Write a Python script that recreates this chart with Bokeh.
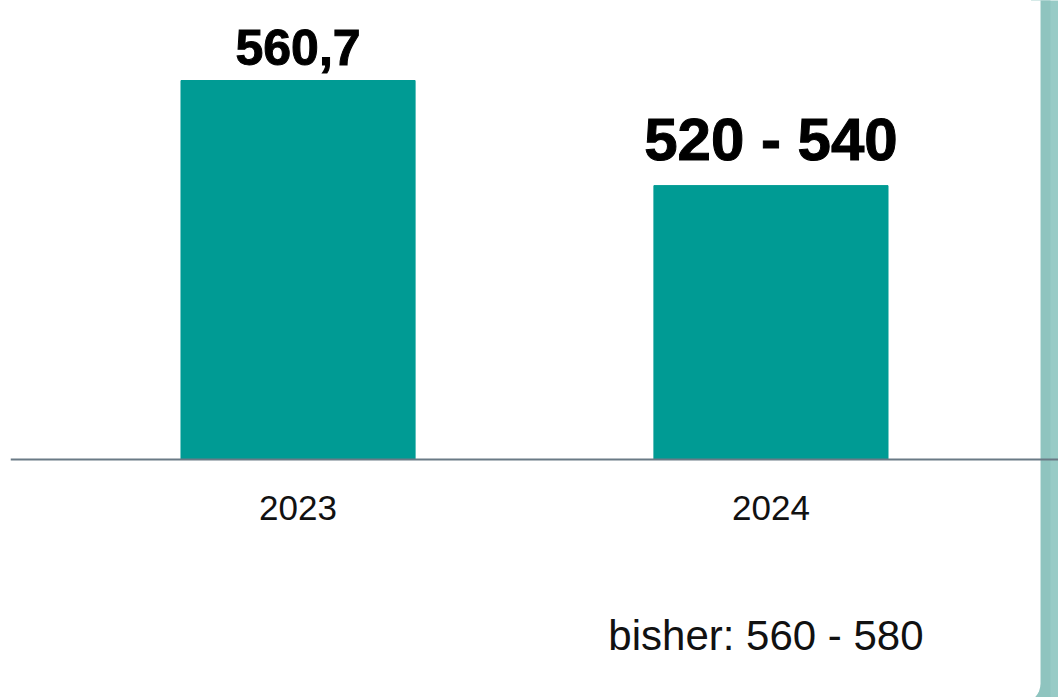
from bokeh.plotting import figure
from bokeh.models import Range1d, FactorRange, Span, BoxAnnotation, ColumnDataSource, GlobalInlineStyleSheet
from bokeh.core.properties import value
from bokeh.embed import file_html
from bokeh.resources import INLINE

# ---- data ----
years = ["2023", "2024"]
values = [560.7, 530.0]          # 2024: midpoint of the forecast range 520 - 540
value_labels = ["560,7", "520 - 540"]
note = "bisher: 560 - 580"

# ---- styles ----
label_sizes = ["50px", "60px"]
label_offsets = [-33, -46]
BAR = "#009B94"
BAND = "#8fc4bf"
BAND2 = "#98cbc6"

src = ColumnDataSource(dict(x=years, top=values, lab=value_labels,
                            size=label_sizes, off=label_offsets))

p = figure(width=1058, height=697, output_backend="svg", toolbar_location=None,
           x_range=FactorRange(factors=years, range_padding=0.108, range_padding_units="absolute"),
           y_range=Range1d(380.48, 584.07),
           min_border_left=10, min_border_right=0, min_border_top=0, min_border_bottom=0,
           background_fill_color="white", border_fill_color="white", outline_line_color=None)
p.stylesheets = [GlobalInlineStyleSheet(
    css="html, body { margin: 0 !important; padding: 0 !important; overflow: hidden !important; }")]
p.axis.visible = False
p.grid.visible = False

# teal band behind the white panel (right edge)
p.add_layout(BoxAnnotation(left=2.050, right=2.200, top=700, bottom=300, fill_color=BAND2,
                           fill_alpha=1, line_alpha=0, level="underlay"))
p.add_layout(BoxAnnotation(left=2.050, right=2.091, top=700, bottom=300, fill_color=BAND,
                           fill_alpha=1, line_alpha=0, level="underlay"))
# white panel with rounded bottom-right corner
p.add_layout(BoxAnnotation(left=-1.0, right=2.070, top=700, bottom=378.73, fill_color="white",
                           fill_alpha=1, line_alpha=0, level="underlay", border_radius=(0, 0, 20, 0)))

p.vbar(x="x", top="top", bottom=450, width=0.495, source=src, color=BAR)

p.add_layout(Span(location=450, dimension="width", line_color="#6a7a86", line_width=2))

p.text(x="x", y="top", text="lab", source=src, y_offset="off", text_align="center",
       text_baseline="alphabetic", text_font=value("Liberation Sans"), text_font_style="bold",
       text_font_size="size", text_color="black", text_outline_color="black")

p.text(x=years, y=[450, 450], text=years, y_offset=49, text_align="center",
       text_baseline="alphabetic", text_font=value("Liberation Sans"),
       text_font_size="35px", text_color="#111111")

p.text(x=["2024"], y=[450], text=[note], y_offset=176, x_offset=-5, text_align="center",
       text_baseline="alphabetic", text_font=value("Liberation Sans"),
       text_font_size="42px", text_color="#111111")

open("out.html", "w").write(file_html(p, INLINE))
